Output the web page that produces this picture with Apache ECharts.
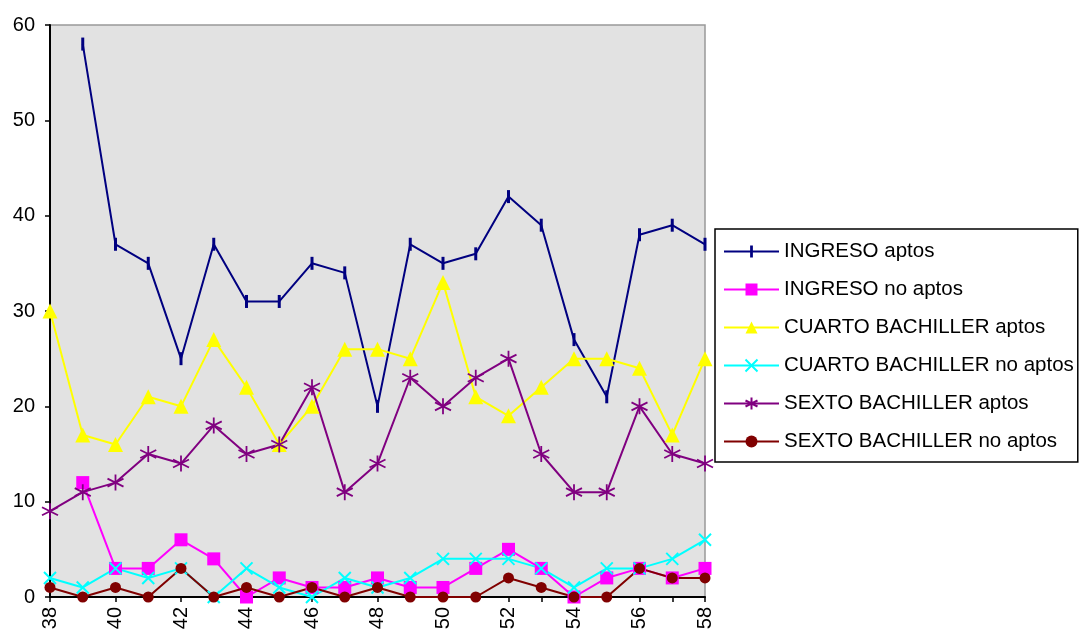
<!DOCTYPE html>
<html>

<head>
  <meta charset="utf-8" />
  <title></title>
  <script src="https://cdn.jsdelivr.net/npm/echarts@6/dist/echarts.min.js"></script>
  <style>
    body { margin: 0; background: #fff; }
  </style>
</head>

<body>
  <div id="main" style="width: 1079px;height:637px;"></div>
  <script type="text/javascript">
    var years = ['38', '39', '40', '41', '42', '43', '44', '45', '46', '47', '48',
      '49', '50', '51', '52', '53', '54', '55', '56', '57', '58'];
    var ingresoAptos = [null, 58, 37, 35, 25, 37, 31, 31, 35, 34, 20, 37, 35, 36, 42, 39, 27, 21, 38, 39, 37];
    var ingresoNoAptos = [null, 12, 3, 3, 6, 4, 0, 2, 1, 1, 2, 1, 1, 3, 5, 3, 0, 2, 3, 2, 3];
    var cuartoAptos = [30, 17, 16, 21, 20, 27, 22, 16, 20, 26, 26, 25, 33, 21, 19, 22, 25, 25, 24, 17, 25];
    var cuartoNoAptos = [2, 1, 3, 2, 3, 0, 3, 1, 0, 2, 1, 2, 4, 4, 4, 3, 1, 3, 3, 4, 6];
    var sextoAptos = [9, 11, 12, 15, 14, 18, 15, 16, 22, 11, 14, 23, 20, 23, 25, 15, 11, 11, 20, 15, 14];
    var sextoNoAptos = [1, 0, 1, 0, 3, 0, 1, 0, 1, 0, 1, 0, 0, 0, 2, 1, 0, 0, 3, 2, 2];
    var yTicks = [0, 10, 20, 30, 40, 50, 60];

    var font = 'Liberation Sans, Arial, sans-serif';
    var chart = echarts.init(document.getElementById('main'));

    // thin vertical bar inside a square box, so the legend keeps it thin too
    var barSymbol = 'path://M0,0M13,13M5,0L8,0L8,13L5,13Z';

    function line(name, data, color, symbol, size, extra) {
      var s = {
        name: name,
        type: 'line',
        data: data,
        symbol: symbol,
        symbolSize: size,
        showAllSymbol: true,
        lineStyle: { color: color, width: 2 },
        itemStyle: { color: color },
        emphasis: { disabled: true },
        animation: false
      };
      if (extra) s.itemStyle = extra;
      return s;
    }

    var option = {
      animation: false,
      grid: {
        left: 50, top: 25, right: 374, bottom: 40,
        show: true,
        backgroundColor: '#e2e2e2',
        borderColor: '#999',
        borderWidth: 1.5
      },
      legend: {
        orient: 'vertical',
        left: 715, top: 229,
        borderColor: '#000',
        borderWidth: 1.5,
        padding: [12, 4, 10, 8],
        itemWidth: 55,
        itemHeight: 15,
        itemGap: 17,
        textStyle: { fontFamily: font, fontSize: 20.5, color: '#000', lineHeight: 20 },
        data: ['INGRESO aptos', 'INGRESO no aptos', 'CUARTO BACHILLER aptos',
          'CUARTO BACHILLER no aptos', 'SEXTO BACHILLER aptos', 'SEXTO BACHILLER no aptos']
      },
      xAxis: {
        type: 'category',
        data: years,
        boundaryGap: false,
        axisLine: { lineStyle: { color: '#000', width: 2 } },
        axisTick: { interval: 0, length: 5, lineStyle: { color: '#000', width: 1.5 } },
        axisLabel: {
          interval: 1, rotate: 90, margin: 10,
          fontFamily: font, fontSize: 20, color: '#000'
        },
        splitLine: { show: false }
      },
      yAxis: {
        type: 'value',
        min: yTicks[0], max: yTicks[yTicks.length - 1], interval: 10,
        axisLine: { show: true, lineStyle: { color: '#000', width: 2 } },
        axisTick: { show: true, length: 5, lineStyle: { color: '#000', width: 1.5 } },
        axisLabel: { margin: 15, fontFamily: font, fontSize: 20, color: '#000' },
        splitLine: { show: false }
      },
      series: [
        line('INGRESO aptos', ingresoAptos, '#000080', barSymbol, 13),
        line('INGRESO no aptos', ingresoNoAptos, '#ff00ff', 'rect', 13),
        line('CUARTO BACHILLER aptos', cuartoAptos, '#ffff00', 'triangle', 15),
        line('CUARTO BACHILLER no aptos', cuartoNoAptos, '#00ffff',
          'path://M0,0L10,10M10,0L0,10', 12,
          { color: '#00ffff', borderColor: '#00ffff', borderWidth: 2 }),
        line('SEXTO BACHILLER aptos', sextoAptos, '#800080',
          'path://M5,0L5,10M0,2.5L10,7.5M0,7.5L10,2.5', 16,
          { color: '#800080', borderColor: '#800080', borderWidth: 1.8 }),
        line('SEXTO BACHILLER no aptos', sextoNoAptos, '#800000', 'circle', 11)
      ]
    };
    chart.setOption(option);
  </script>
</body>

</html>
